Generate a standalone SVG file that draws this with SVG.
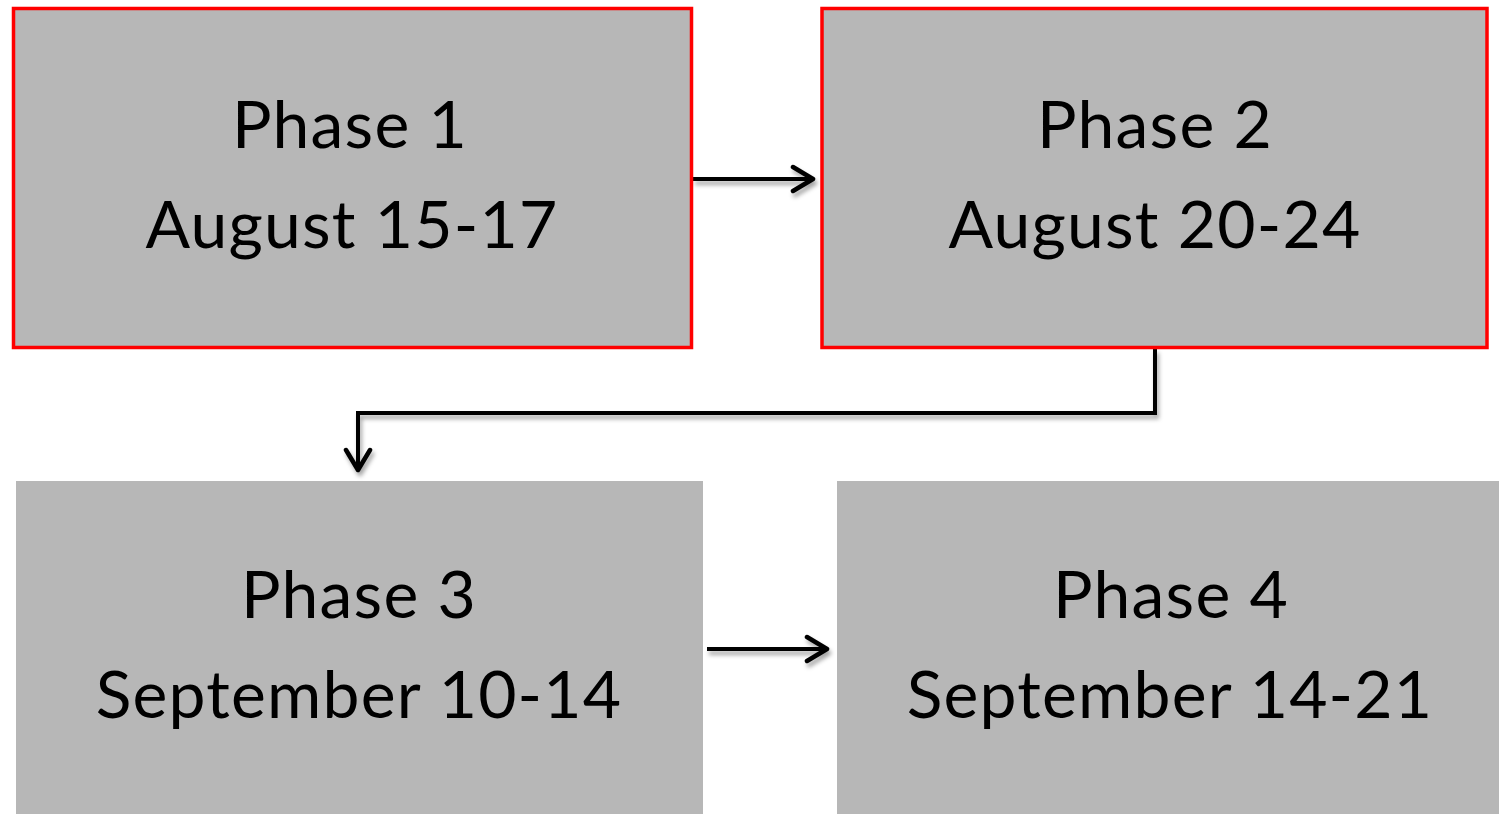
<svg xmlns="http://www.w3.org/2000/svg" width="1499" height="814" viewBox="0 0 1499 814">
<defs>
<style>
.box{fill:#b7b7b7}
.red{stroke:#ff0000;stroke-width:3.5}
.t{font-family:"Lato","Open Sans",sans-serif;font-size:66px;fill:#000;text-anchor:middle;letter-spacing:1.2px}
.c{fill:none;stroke:#000;stroke-width:4;filter:url(#sh)}
</style>
<filter id="sh" filterUnits="userSpaceOnUse" x="0" y="0" width="1499" height="814">
<feDropShadow dx="2" dy="4" stdDeviation="2" flood-color="#000" flood-opacity="0.35"/>
</filter>
<marker id="ah" markerUnits="userSpaceOnUse" viewBox="0 0 26 30" refX="23" refY="15" markerWidth="26" markerHeight="30" orient="auto">
<path d="M3,3 L23,15 L3,27" fill="none" stroke="#000" stroke-width="4.5" stroke-linecap="round" stroke-linejoin="round"/>
</marker>
</defs>
<rect width="1499" height="814" fill="#fff"/>
<g id="connectors">
<path class="c" d="M693,179 H813" marker-end="url(#ah)"/>
<path class="c" d="M1155,349 V413 H358 V470" marker-end="url(#ah)"/>
<path class="c" d="M707,649 H827" marker-end="url(#ah)"/>
</g>
<g id="phase1">
<rect class="box red" x="13.5" y="8.5" width="678" height="339"/>
<text class="t" x="350" y="148">Phase 1</text>
<text class="t" x="352" y="248">August 15-17</text>
</g>
<g id="phase2">
<rect class="box red" x="822" y="8.5" width="665" height="339"/>
<text class="t" x="1155" y="148">Phase 2</text>
<text class="t" x="1155" y="248">August 20-24</text>
</g>
<g id="phase3">
<rect class="box" x="16" y="481" width="687" height="333"/>
<text class="t" x="359" y="618">Phase 3</text>
<text class="t" x="359" y="718">September 10-14</text>
</g>
<g id="phase4">
<rect class="box" x="837" y="481" width="662" height="333"/>
<text class="t" x="1171" y="618">Phase 4</text>
<text class="t" x="1170" y="718">September 14-21</text>
</g>
</svg>
